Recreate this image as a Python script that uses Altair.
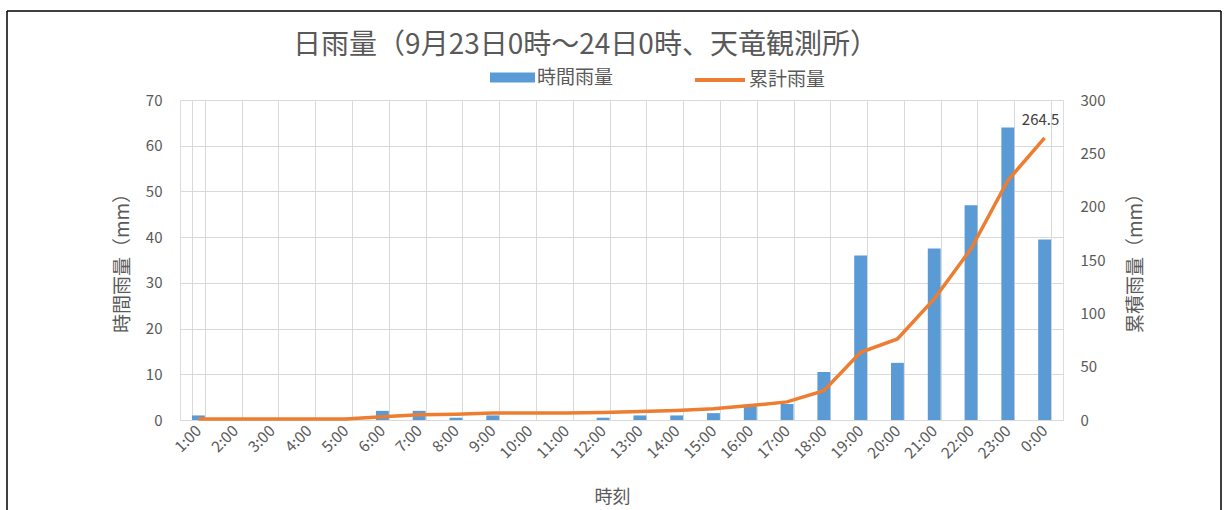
import altair as alt
import pandas as pd

hours = ["1:00", "2:00", "3:00", "4:00", "5:00", "6:00", "7:00", "8:00", "9:00", "10:00",
         "11:00", "12:00", "13:00", "14:00", "15:00", "16:00", "17:00", "18:00", "19:00",
         "20:00", "21:00", "22:00", "23:00", "0:00"]
hourly_rain = [1, 0, 0, 0, 0, 2, 2, 0.5, 1, 0, 0, 0.5, 1, 1, 1.5, 3, 3.5, 10.5, 36, 12.5,
               37.5, 47, 64, 39.5]
cumulative_rain = [1, 1, 1, 1, 1, 3, 5, 5.5, 6.5, 6.5, 6.5, 7, 8, 9, 10.5, 13.5, 17, 27.5,
                   63.5, 76, 113.5, 160.5, 224.5, 264.5]
left_ticks = [0, 10, 20, 30, 40, 50, 60, 70]
right_ticks = [0, 50, 100, 150, 200, 250, 300]

TITLE = "日雨量（9月23日0時～24日0時、天竜観測所）"
BAR_NAME = "時間雨量"
LINE_NAME = "累計雨量"
BLUE = "#5B9BD5"
ORANGE = "#ED7D31"
TXT = "#595959"
GRID = "#D9D9D9"
FONT = "Noto Sans CJK JP"

df = pd.DataFrame({
    "hour": hours,
    "hourly": hourly_rain,
    "cum": cumulative_rain,
    "bar_series": BAR_NAME,
    "line_series": LINE_NAME,
})

x_enc = alt.X(
    "hour:N",
    sort=hours,
    scale=alt.Scale(paddingInner=0.65, paddingOuter=0.325),
    axis=alt.Axis(
        title="時刻",
        labelAngle=315,
        labelAlign="right",
        labelBaseline="middle",
        labelFontSize=15.5,
        labelColor=TXT,
        labelPadding=8,
        labelFont=FONT,
        titleFont=FONT,
        titleFontSize=18,
        titleFontWeight="normal",
        titleColor=TXT,
        titleX=432,
        titleY=77,
        titleBaseline="middle",
        titleAlign="center",
        ticks=False,
        domain=True,
        domainColor=GRID,
        grid=True,
        gridColor=GRID,
        tickBand="extent",
    ),
)

y_right = alt.Y(
    "cum:Q",
    scale=alt.Scale(domain=[0, 300]),
    axis=alt.Axis(
        orient="right",
        values=right_ticks,
        title="累積雨量（mm）",
        titleAngle=270,
        titleX=72,
        titleY=158,
        titleAlign="center",
        titleBaseline="middle",
        titleFont=FONT,
        titleFontSize=19,
        titleFontWeight="normal",
        titleColor=TXT,
        labelFont=FONT,
        labelFontSize=15,
        labelColor=TXT,
        labelPadding=17,
        ticks=False,
        domain=False,
        grid=False,
    ),
)

base = alt.Chart(df)

bars = base.mark_bar().encode(
    x=x_enc,
    y=alt.Y(
        "hourly:Q",
        scale=alt.Scale(domain=[0, 70]),
        axis=alt.Axis(
            values=left_ticks,
            title="時間雨量（mm）",
            titleAngle=270,
            titleX=-58,
            titleY=158,
            titleAlign="center",
            titleBaseline="middle",
            titleFont=FONT,
            titleFontSize=19,
            titleFontWeight="normal",
            titleColor=TXT,
            labelFont=FONT,
            labelFontSize=15,
            labelColor=TXT,
            labelPadding=18,
            ticks=False,
            domain=False,
            grid=True,
            gridColor=GRID,
        ),
    ),
    color=alt.Color(
        "bar_series:N",
        scale=alt.Scale(domain=[BAR_NAME], range=[BLUE]),
        legend=alt.Legend(
            title=None,
            orient="none",
            legendX=310,
            legendY=-45,
            padding=0,
            symbolType="M-1,-0.22L1,-0.22L1,0.22L-1,0.22Z",
            symbolSize=2025,
            symbolStrokeWidth=0,
            labelFont=FONT,
            labelFontSize=19,
            labelColor=TXT,
            labelOffset=2,
        ),
    ),
)

line = base.mark_line(strokeWidth=3.5).encode(
    x=x_enc,
    y=y_right,
    color=alt.Color(
        "line_series:N",
        scale=alt.Scale(domain=[LINE_NAME], range=[ORANGE]),
        legend=alt.Legend(
            title=None,
            orient="none",
            legendX=513,
            legendY=-47,
            padding=0,
            symbolType="stroke",
            symbolSize=2500,
            symbolStrokeWidth=4,
            labelFont=FONT,
            labelFontSize=19,
            labelColor=TXT,
            labelOffset=2,
        ),
    ),
)

label = base.transform_filter(alt.datum.hour == "0:00").mark_text(
    font=FONT, fontSize=15, color="#404040", dx=-4, dy=-10, baseline="bottom", align="center"
).encode(
    x=x_enc,
    y=y_right,
    text=alt.Text("cum:Q", format=".1f"),
)

line_layer = alt.layer(line, label)

frame_df = pd.DataFrame({"k": [0]})
frame_top = alt.Chart(frame_df).mark_rule(color="#000000", strokeWidth=1.5).encode(
    x=alt.value(-173), x2=alt.value(1041), y=alt.value(-89)
)
frame_left = alt.Chart(frame_df).mark_rule(color="#000000", strokeWidth=1.5).encode(
    x=alt.value(-173), y=alt.value(-89), y2=alt.value(410)
)
frame_right = alt.Chart(frame_df).mark_rule(color="#000000", strokeWidth=1.5).encode(
    x=alt.value(1041), y=alt.value(-89), y2=alt.value(410)
)

chart = alt.layer(bars, line_layer, frame_top, frame_left, frame_right).resolve_scale(
    y="independent", color="independent"
).properties(
    width=883,
    height=320,
    title=alt.TitleParams(
        TITLE,
        font=FONT,
        fontSize=28,
        fontWeight="normal",
        color=TXT,
        anchor="middle",
        frame="group",
        dx=-36,
        offset=0,
        dy=50,
    ),
    autosize=alt.AutoSizeParams(type="none"),
    padding={"left": 180, "top": 100, "right": 163, "bottom": 90},
).configure_view(
    stroke=GRID, strokeWidth=1
).configure(
    background="#FFFFFF"
)

chart.save("out.html", embed_options={"renderer": "svg", "actions": False})
